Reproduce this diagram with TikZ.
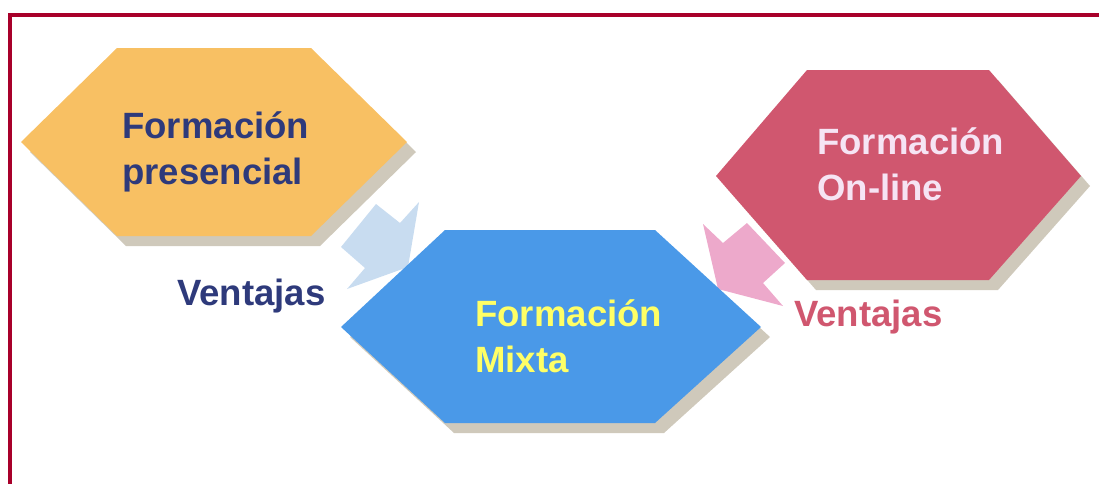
\documentclass[tikz,border=0pt]{standalone}
\usepackage{fontspec}
\setmainfont{Liberation Sans}
\definecolor{framered}{HTML}{A8002A}
\definecolor{hexorange}{HTML}{F8C063}
\definecolor{hexblue}{HTML}{4A99E8}
\definecolor{hexcrimson}{HTML}{D0576F}
\definecolor{shadowgray}{HTML}{CFC9BB}
\definecolor{navy}{HTML}{2E3A7B}
\definecolor{paleyellow}{HTML}{FFFF66}
\definecolor{palepink}{HTML}{F6E4F4}
\definecolor{arrowblue}{HTML}{C8DCF0}
\definecolor{arrowpink}{HTML}{EDA9CB}

\begin{document}
\begin{tikzpicture}[x=0.025cm,y=-0.025cm,
    hexshadow/.style={fill=shadowgray,shift={(9,10)}},
    label/.style={font=\fontsize{26}{32.7}\selectfont\bfseries,inner sep=0pt,anchor=base west,align=left}]
  \useasboundingbox (0,0) rectangle (1099,483);
  \clip (0,0) rectangle (1099,483);
  \draw[framered,line width=3.2pt] (10,520) -- (10,15) -- (1120,15);

  % block arrows
  \fill[arrowblue] (376,204) -- (400,223) -- (419,202) -- (408,267) -- (347,289) -- (365,268) -- (341,247) -- cycle;
  \fill[arrowpink] (703,224) -- (723,243) -- (747,223) -- (785,263) -- (763,283) -- (783,306) -- (718,289) -- cycle;

  % hexagons
  \fill[hexshadow] (21,142) -- (117,48) -- (311,48) -- (407,142) -- (311,236) -- (117,236) -- cycle;
  \fill[hexorange] (21,142) -- (117,48) -- (311,48) -- (407,142) -- (311,236) -- (117,236) -- cycle;
  \fill[hexshadow] (716,176) -- (807,70) -- (989,70) -- (1081,176) -- (989,280) -- (807,280) -- cycle;
  \fill[hexcrimson] (716,176) -- (807,70) -- (989,70) -- (1081,176) -- (989,280) -- (807,280) -- cycle;
  \fill[hexshadow] (341,327) -- (445,230) -- (655,230) -- (761,327) -- (655,423) -- (445,423) -- cycle;
  \fill[hexblue] (341,327) -- (445,230) -- (655,230) -- (761,327) -- (655,423) -- (445,423) -- cycle;

  % texts (base anchor sits on the last line)
  \node[label,text=navy] (presencial) at (122,184) {Formación\\presencial};
  \node[label,text=palepink] (online) at (817,200) {Formación\\On-line};
  \node[label,text=paleyellow] (mixta) at (475,372) {Formación\\Mixta};
  \node[label,text=navy] (ventajasP) at (177,305) {Ventajas};
  \node[label,text=hexcrimson] (ventajasO) at (794,326) {Ventajas};
\end{tikzpicture}
\end{document}
